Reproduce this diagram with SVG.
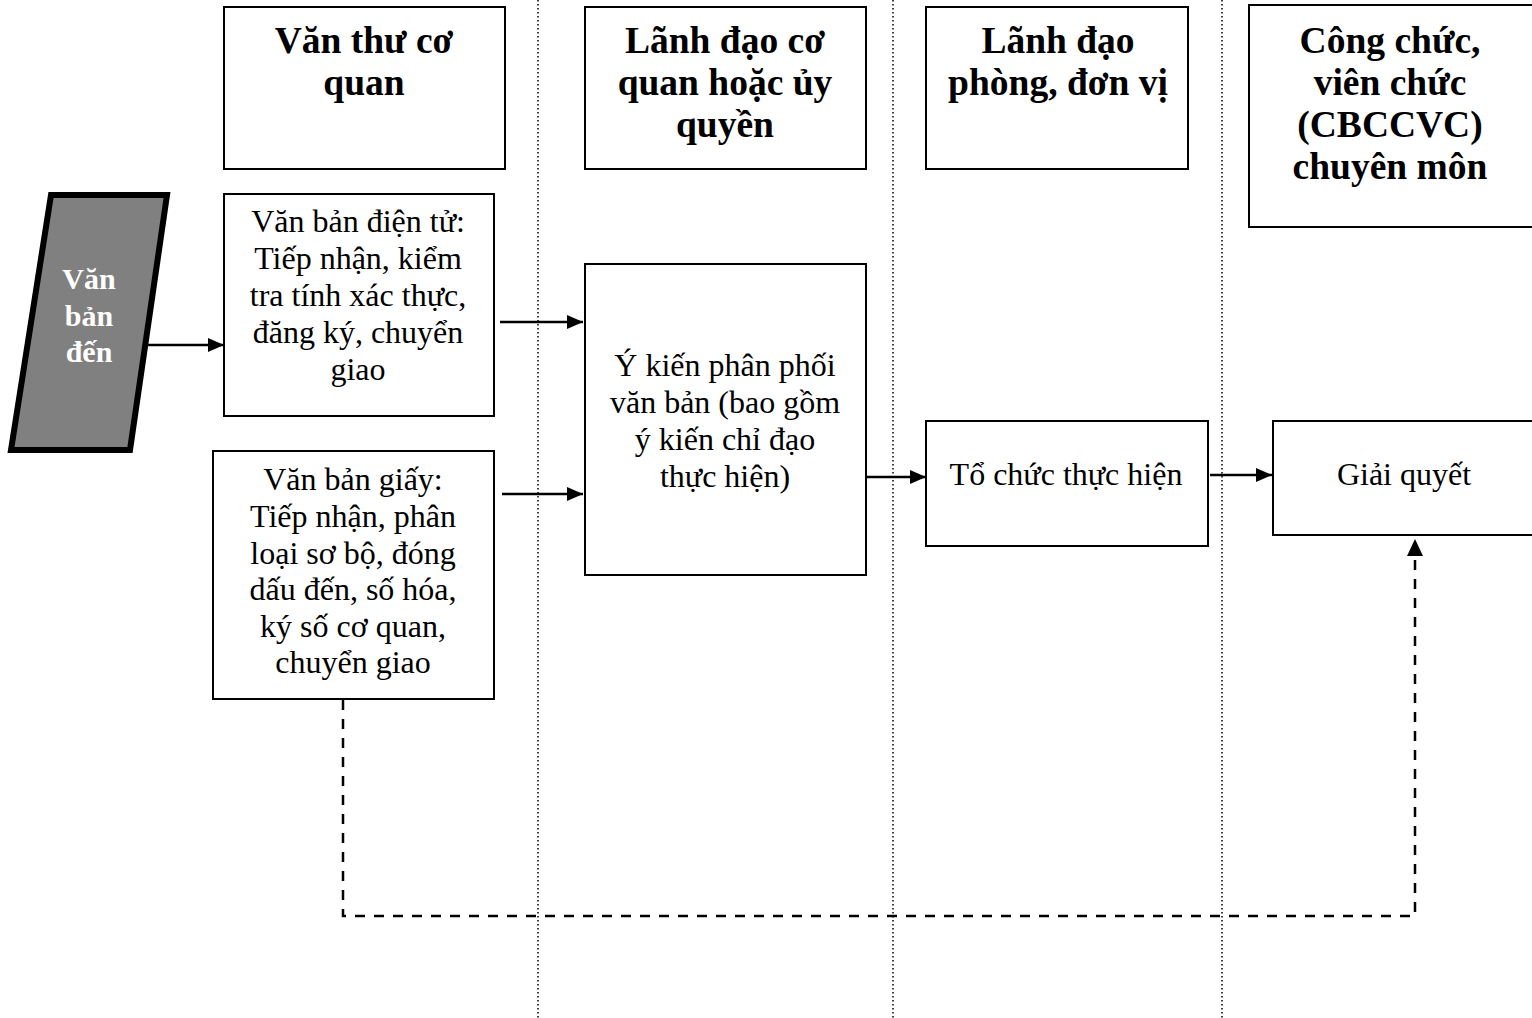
<svg xmlns="http://www.w3.org/2000/svg" width="1532" height="1018" viewBox="0 0 1532 1018">
<defs>
<marker id="ah" markerWidth="16" markerHeight="14" refX="16" refY="7" orient="auto" markerUnits="userSpaceOnUse">
<path d="M0,0 L16,7 L0,14 Z" fill="#000"/>
</marker>
<style>
.box{fill:#fff;stroke:#000;stroke-width:2}
.hd{font-family:"Liberation Serif","DejaVu Serif",serif;font-weight:bold;font-size:37.5px;text-anchor:middle;fill:#000}
.tx{font-family:"Liberation Serif","DejaVu Serif",serif;font-size:32px;text-anchor:middle;fill:#000}
.lane{stroke:#000;stroke-width:1.5;stroke-dasharray:1.5 2.5}
.con{stroke:#000;stroke-width:2.5;fill:none}
.dash{stroke:#000;stroke-width:2.5;fill:none;stroke-dasharray:10 9}
</style>
</defs>
<rect width="1532" height="1018" fill="#fff"/>
<g id="lanes">
<line class="lane" x1="538" y1="0" x2="538" y2="1018"/>
<line class="lane" x1="893" y1="0" x2="893" y2="1018"/>
<line class="lane" x1="1222" y1="0" x2="1222" y2="1018"/>
</g>
<g id="h1"><rect class="box" x="224" y="7" width="281" height="162"/>
<text class="hd" x="364" y="53">Văn thư cơ</text><text class="hd" x="364" y="95">quan</text></g>
<g id="h2"><rect class="box" x="585" y="7" width="281" height="162"/>
<text class="hd" x="725" y="53">Lãnh đạo cơ</text><text class="hd" x="725" y="95">quan hoặc ủy</text><text class="hd" x="725" y="137">quyền</text></g>
<g id="h3"><rect class="box" x="926" y="7" width="262" height="162"/>
<text class="hd" x="1058" y="53">Lãnh đạo</text><text class="hd" x="1058" y="95">phòng, đơn vị</text></g>
<g id="h4"><rect class="box" x="1249" y="5" width="290" height="222"/>
<text class="hd" x="1390" y="53">Công chức,</text><text class="hd" x="1390" y="95">viên chức</text><text class="hd" x="1390" y="137">(CBCCVC)</text><text class="hd" x="1390" y="179">chuyên môn</text></g>
<g id="src"><polygon points="51,195 167,195 130,450 11,450" fill="#808080" stroke="#000" stroke-width="6"/>
<text class="hd" x="89" y="289" style="fill:#fff;font-size:30px">Văn</text><text class="hd" x="89" y="326" style="fill:#fff;font-size:30px">bản</text><text class="hd" x="89" y="362" style="fill:#fff;font-size:30px">đến</text></g>
<g id="n1"><rect class="box" x="224" y="194" width="270" height="222"/>
<text class="tx" x="358" y="232">Văn bản điện tử:</text><text class="tx" x="358" y="269">Tiếp nhận, kiểm</text><text class="tx" x="358" y="306">tra tính xác thực,</text><text class="tx" x="358" y="343">đăng ký, chuyển</text><text class="tx" x="358" y="380">giao</text></g>
<g id="n2"><rect class="box" x="213" y="451" width="281" height="248"/>
<text class="tx" x="353" y="490">Văn bản giấy:</text><text class="tx" x="353" y="527">Tiếp nhận, phân</text><text class="tx" x="353" y="564">loại sơ bộ, đóng</text><text class="tx" x="353" y="600">dấu đến, số hóa,</text><text class="tx" x="353" y="637">ký số cơ quan,</text><text class="tx" x="353" y="673">chuyển giao</text></g>
<g id="n3"><rect class="box" x="585" y="264" width="281" height="311"/>
<text class="tx" x="725" y="376">Ý kiến phân phối</text><text class="tx" x="725" y="413">văn bản (bao gồm</text><text class="tx" x="725" y="450">ý kiến chỉ đạo</text><text class="tx" x="725" y="487">thực hiện)</text></g>
<g id="n4"><rect class="box" x="926" y="421" width="282" height="125"/>
<text class="tx" x="1066" y="485">Tổ chức thực hiện</text></g>
<g id="n5"><rect class="box" x="1273" y="421" width="265" height="114"/>
<text class="tx" x="1404" y="485">Giải quyết</text></g>
<g id="connectors">
<line class="con" x1="146" y1="345" x2="224" y2="345" marker-end="url(#ah)"/>
<line class="con" x1="500" y1="322" x2="583" y2="322" marker-end="url(#ah)"/>
<line class="con" x1="502" y1="494" x2="583" y2="494" marker-end="url(#ah)"/>
<line class="con" x1="866" y1="477" x2="926" y2="477" marker-end="url(#ah)"/>
<line class="con" x1="1210" y1="475" x2="1272" y2="475" marker-end="url(#ah)"/>
<polyline class="dash" points="343,700 343,916 1415,916 1415,560"/>
<path d="M1407,556 L1415,539 L1423,556 Z" fill="#000"/>
</g>
</svg>
